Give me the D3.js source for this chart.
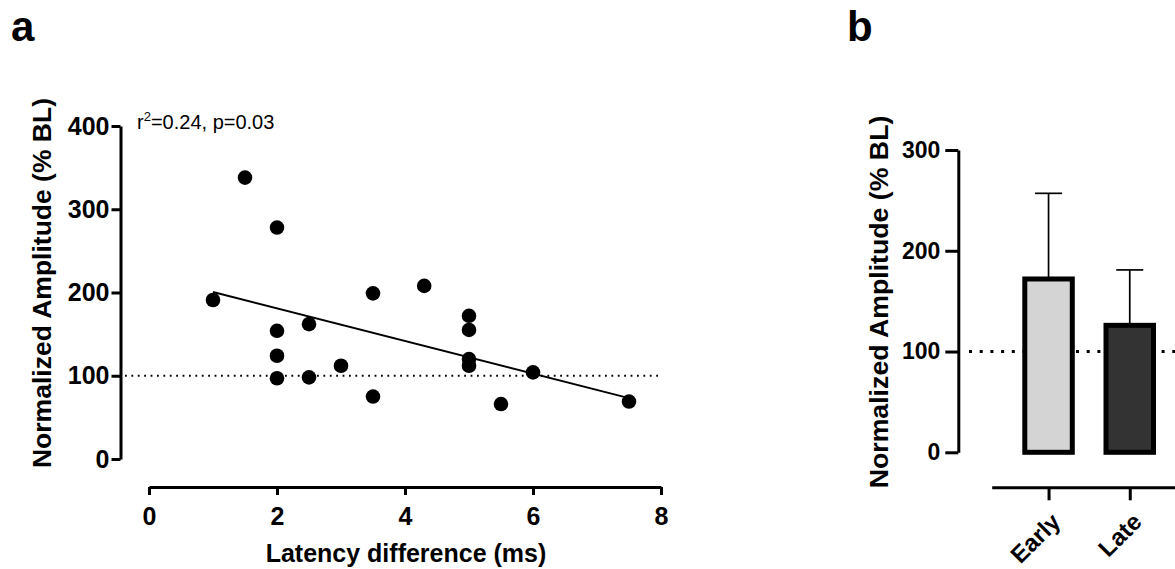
<!DOCTYPE html>
<html>
<head>
<meta charset="utf-8">
<script src="https://cdn.jsdelivr.net/npm/d3@7"></script>
<style>
  body { margin: 0; background: #fff; }
  svg { display: block; font-family: "Liberation Sans", Arial, sans-serif; }
</style>
</head>
<body>
<div id="wrapper"></div>
<script>
// panel a: latency difference vs normalized amplitude
const latency = [1, 1.5, 2, 2, 2, 2, 2.5, 2.5, 3, 3.5, 3.5, 4.3, 5, 5, 5, 5, 5.5, 6, 7.5];
const amplitude = [191, 338, 278, 154, 124, 97, 162, 98, 112, 199, 75, 208, 172, 155, 120, 112, 66, 104, 69];
const xTicksA = [0, 2, 4, 6, 8];
const yTicksA = [0, 100, 200, 300, 400];
const statLabel = ["r", "2", "=0.24, p=0.03"];

// panel b: early vs late, mean + SD
const groups = ["Early", "Late"];
const groupMean = [172, 126];
const groupSD = [85, 55];
const groupFill = ["#d4d4d4", "#333333"];
const yTicksB = [0, 100, 200, 300];

const baseline = 100;

const svg = d3.select("#wrapper")
  .append("svg")
  .attr("width", 1175)
  .attr("height", 569);

drawScatter();
drawBars();

function drawScatter() {
  const data = latency.map((x, i) => ({ x, y: amplitude[i] }));

  const xScale = d3.scaleLinear().domain([0, 8]).range([149, 661]);
  const yScale = d3.scaleLinear().domain([0, 400]).range([459, 126]);

  const g = svg.append("g");

  // baseline 100%
  g.append("line")
    .attr("x1", 125)
    .attr("x2", xScale(8))
    .attr("y1", yScale(baseline))
    .attr("y2", yScale(baseline))
    .attr("stroke", "black")
    .attr("stroke-width", 1.8)
    .attr("stroke-dasharray", "1.8,4.6");

  // linear regression
  const mx = d3.mean(data, d => d.x);
  const my = d3.mean(data, d => d.y);
  const slope = d3.sum(data, d => (d.x - mx) * (d.y - my)) / d3.sum(data, d => (d.x - mx) ** 2);
  const icpt = my - slope * mx;
  const [xmin, xmax] = d3.extent(data, d => d.x);
  g.append("line")
    .attr("x1", xScale(xmin))
    .attr("y1", yScale(icpt + slope * xmin))
    .attr("x2", xScale(xmax))
    .attr("y2", yScale(icpt + slope * xmax))
    .attr("stroke", "black")
    .attr("stroke-width", 2);

  g.selectAll("circle")
    .data(data)
    .enter()
    .append("circle")
    .attr("cx", d => xScale(d.x))
    .attr("cy", d => yScale(d.y))
    .attr("r", 7.3)
    .attr("fill", "black");

  const yAxis = g.append("g")
    .attr("transform", "translate(120.5,0)")
    .call(d3.axisLeft(yScale).tickValues(yTicksA).tickSize(9).tickSizeOuter(0).tickPadding(2));
  const xAxis = g.append("g")
    .attr("transform", "translate(0,487)")
    .call(d3.axisBottom(xScale).tickValues(xTicksA).tickSize(8).tickSizeOuter(0).tickPadding(12));

  [xAxis, yAxis].forEach(ax => {
    ax.select(".domain").attr("stroke-width", 3);
    ax.selectAll(".tick line").attr("stroke-width", 3);
    ax.selectAll(".tick text")
      .attr("fill", "black")
      .style("font-size", "25px")
      .style("font-weight", "bold");
  });

  svg.append("text")
    .attr("x", 406)
    .attr("y", 561.5)
    .attr("text-anchor", "middle")
    .style("font-size", "25px")
    .style("font-weight", "bold")
    .text("Latency difference (ms)");

  svg.append("text")
    .attr("transform", "translate(51,283) rotate(-90)")
    .attr("text-anchor", "middle")
    .style("font-size", "26.5px")
    .style("font-weight", "bold")
    .text("Normalized Amplitude (% BL)");

  const stat = svg.append("text")
    .attr("x", 137)
    .attr("y", 129)
    .style("font-size", "20px");
  stat.append("tspan").text(statLabel[0]);
  stat.append("tspan").attr("dy", -8).style("font-size", "13px").text(statLabel[1]);
  stat.append("tspan").attr("dy", 8).text(statLabel[2]);

  svg.append("text")
    .attr("x", 11)
    .attr("y", 41)
    .style("font-size", "42px")
    .style("font-weight", "bold")
    .text("a");
}

function drawBars() {
  const yScale = d3.scaleLinear().domain([0, 300]).range([452.3, 150]);
  const xScale = d3.scalePoint().domain(groups).range([991.7, 1186.6]).padding(0.7);
  const barW = 47.5;

  const g = svg.append("g");

  g.append("line")
    .attr("x1", 969)
    .attr("x2", 1175)
    .attr("y1", yScale(baseline))
    .attr("y2", yScale(baseline))
    .attr("stroke", "black")
    .attr("stroke-width", 3)
    .attr("stroke-dasharray", "3,7.7");

  // SD whiskers (upward only)
  groups.forEach((grp, i) => {
    const cx = xScale(grp);
    g.append("line")
      .attr("x1", cx).attr("x2", cx)
      .attr("y1", yScale(groupMean[i]))
      .attr("y2", yScale(groupMean[i] + groupSD[i]))
      .attr("stroke", "black")
      .attr("stroke-width", 1.7);
    g.append("line")
      .attr("x1", cx - 13.5).attr("x2", cx + 13.5)
      .attr("y1", yScale(groupMean[i] + groupSD[i]))
      .attr("y2", yScale(groupMean[i] + groupSD[i]))
      .attr("stroke", "black")
      .attr("stroke-width", 1.7);
  });

  g.selectAll("rect")
    .data(groups)
    .enter()
    .append("rect")
    .attr("x", d => xScale(d) - barW / 2)
    .attr("width", barW)
    .attr("y", (d, i) => yScale(groupMean[i]))
    .attr("height", (d, i) => yScale(0) - yScale(groupMean[i]))
    .attr("fill", (d, i) => groupFill[i])
    .attr("stroke", "black")
    .attr("stroke-width", 5);

  const yAxis = g.append("g")
    .attr("transform", "translate(958.3,0)")
    .call(d3.axisLeft(yScale).tickValues(yTicksB).tickSize(13).tickSizeOuter(0).tickPadding(5));
  const xAxis = g.append("g")
    .attr("transform", "translate(0,487.3)")
    .call(d3.axisBottom(xScale).tickSize(13).tickSizeOuter(0));

  [xAxis, yAxis].forEach(ax => {
    ax.select(".domain").attr("stroke-width", 3);
    ax.selectAll(".tick line").attr("stroke-width", 3);
    ax.selectAll(".tick text")
      .attr("fill", "black")
      .style("font-size", "23px")
      .style("font-weight", "bold");
  });

  xAxis.selectAll(".tick text")
    .attr("y", 0)
    .attr("dy", 0)
    .attr("text-anchor", "end")
    .attr("transform", "translate(13,36) rotate(-45)")
    .style("font-size", "24px");

  svg.append("text")
    .attr("transform", "translate(888,302) rotate(-90)")
    .attr("text-anchor", "middle")
    .style("font-size", "26.7px")
    .style("font-weight", "bold")
    .text("Normalized Amplitude (% BL)");

  svg.append("text")
    .attr("x", 847)
    .attr("y", 41)
    .style("font-size", "42px")
    .style("font-weight", "bold")
    .text("b");
}
</script>
</body>
</html>
